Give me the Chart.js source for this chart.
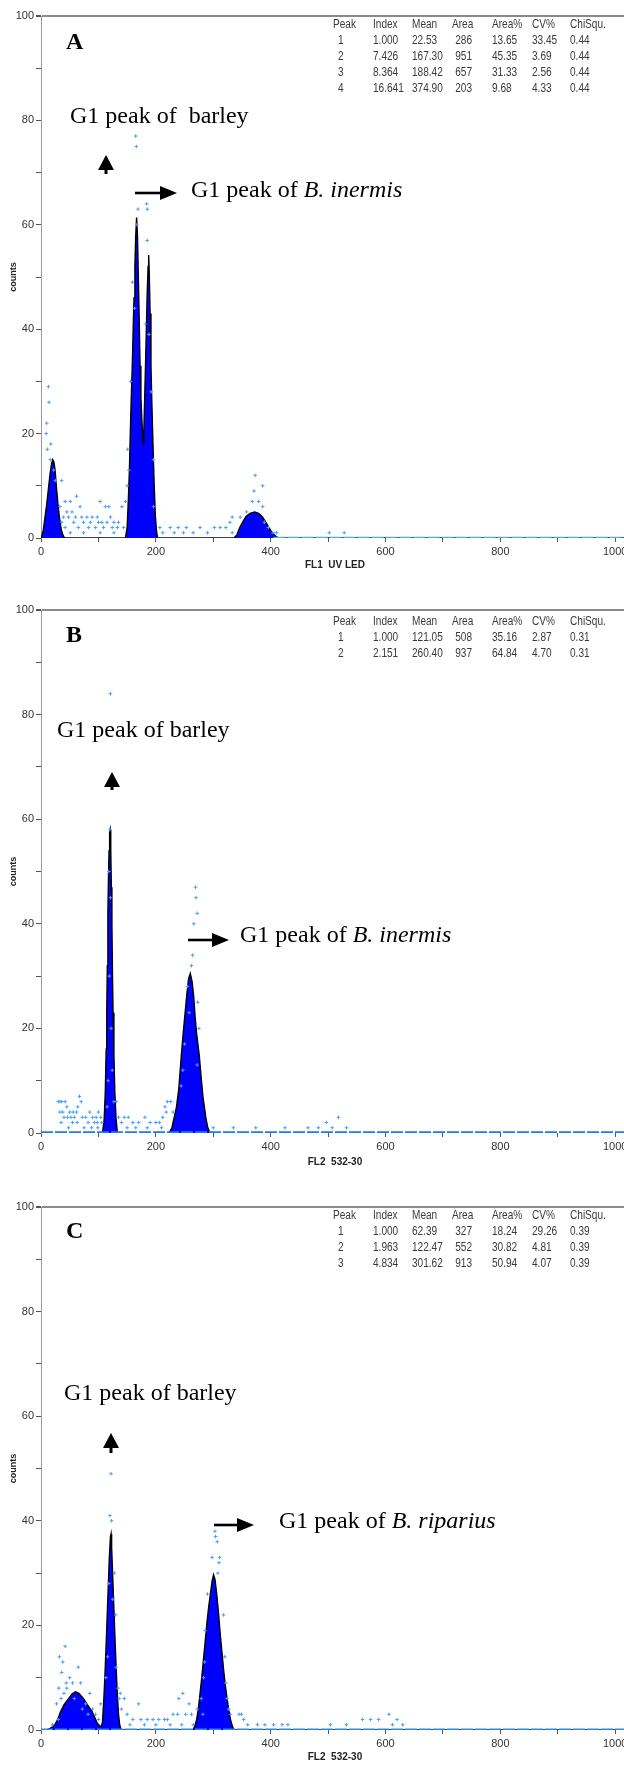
<!DOCTYPE html>
<html>
<head>
<meta charset="utf-8">
<script src="https://cdn.jsdelivr.net/npm/chart.js@4.4.1/dist/chart.umd.min.js"></script>
<style>
  html, body { margin: 0; padding: 0; background: #fff; }
  body { width: 624px; height: 1766px; position: relative; overflow: hidden; }
  .panel { position: absolute; left: 0; }
  .panel canvas { display: block; }
  .txt { position: absolute; white-space: pre; line-height: 1; }
  .serif { font-family: 'Liberation Serif', 'Times New Roman', serif; font-size: 24px; color: #000; }
  .tag { font-weight: bold; }
  .stat { font-family: 'Liberation Sans Narrow', 'Arial Narrow', 'Liberation Sans', sans-serif; font-size: 12px;
          color: #3a3a3a; transform: scaleX(0.84); transform-origin: left center; }
  .stat.r { transform-origin: right center; }
  #arrows { position: absolute; left: 0; top: 0; }
</style>
</head>
<body>

<div class="panel" style="top:0px"><canvas id="chartA" width="660" height="580"></canvas></div>
<div class="panel" style="top:594px"><canvas id="chartB" width="660" height="580"></canvas></div>
<div class="panel" style="top:1190px"><canvas id="chartC" width="660" height="576"></canvas></div>
<svg id="arrows" width="624" height="1766"></svg>

<script>
// ---- axis ticks ----
const xTickValues = [0, 100, 200, 300, 400, 500, 600, 700, 800, 900, 1000];
const xLabelStep = 200;
const yLabelStep = 20;

// ---- peak statistics tables ----
const statsHeader = ['Peak', 'Index', 'Mean', 'Area', 'Area%', 'CV%', 'ChiSqu.'];
const statsA = [
  ['1', '1.000', '22.53', '286', '13.65', '33.45', '0.44'],
  ['2', '7.426', '167.30', '951', '45.35', '3.69', '0.44'],
  ['3', '8.364', '188.42', '657', '31.33', '2.56', '0.44'],
  ['4', '16.641', '374.90', '203', '9.68', '4.33', '0.44']
];
const statsB = [
  ['1', '1.000', '121.05', '508', '35.16', '2.87', '0.31'],
  ['2', '2.151', '260.40', '937', '64.84', '4.70', '0.31']
];
const statsC = [
  ['1', '1.000', '62.39', '327', '18.24', '29.26', '0.39'],
  ['2', '1.963', '122.47', '552', '30.82', '4.81', '0.39'],
  ['3', '4.834', '301.62', '913', '50.94', '4.07', '0.39']
];

// ---- fitted histogram outlines [channel, counts] ----
const fitA = [
  [0,0],[1,0.2],[4,1.5],[7,4],[10,6.5],[13,9.5],[16,12.5],[18.5,14.3],[20.5,15],[22.5,14.5],[24.5,13],
  [27,9.5],[29.5,6.5],[32,4],[35,1.8],[38,0.6],[41,0],
  [147,0],[150,2],[152,7],[154,13],[155.5,20],[157,26],[159,33],[160.5,40],[162,46],[163.5,52],[165,58],
  [166.5,61.4],[168,58],[169.5,50],[171,42],[172.5,33],[174,27],[175.5,23],[177,19.5],[178,18],[179,20],
  [180.5,26.5],[182,33],[183.5,40],[185,47],[186.5,52],[187.5,54.2],[188.5,51],[190,43],[191.5,33],[193,26],
  [195,18],[197,10.5],[199,4.5],[201,1.5],[203,0],
  [336,0],[341,0.6],[347,2.2],[352,3.2],[357,4.1],[364,4.7],[372,5],[379,4.7],[386,4],[391,3.1],[396,2.2],
  [402,1.1],[409,0.3],[414,0],[1024,0]
];
const fitB = [
  [107,0],[110,2.5],[112,8],[113.5,16],[114.5,23],[115.5,32],[116.5,42],[117.5,49],[118.5,54],[119.5,57.5],
  [120.5,58],[121.5,54],[122.5,47],[123.5,40],[124.5,30],[125.5,23],[127,15],[128.5,8],[130.5,3],[133,0],
  [170,null],
  [223,0],[228,1],[232,3],[236,5],[240,8.5],[244.5,15],[248,19.5],[251,23],[254,26.5],[257,29.5],[260,30.5],
  [263,29],[266,26],[268.5,22],[271,19],[275.5,15],[279,10.5],[282,7],[284.5,5],[287,3],[290,1.2],[294,0]
];
const fitC = [
  [0,0],[10,0],[16,0.3],[20,0.6],[24,1],[29,2],[34,3.5],[40,4.8],[48,6],[54,6.9],[60,7.3],[66,7],[74,6],
  [81,4.8],[89,3.5],[94,2.3],[98,1.3],[102,0.8],[105,0.7],[107,1.5],[109,5],[111,9.5],[113,15],[115,21],
  [117,27],[119,33],[121,37],[122,37.5],[123,35],[125,29],[127,23],[129,17],[131,11.5],[133,6.5],[135,3],
  [137,1],[139.5,0],
  [265,0],[268,0.8],[271,2],[274,4],[277,7],[280,10],[283,13.5],[286,17],[289,20.5],[292,23.5],[295,26],
  [298,28.5],[300.5,29.7],[303,28.8],[306,26],[309,22.5],[312,18.5],[315,15],[318,11.5],[321,8.5],[324,6],
  [327,3.8],[330,2],[333,0.8],[336,0],[1024,0]
];

// ---- zero-count baseline (dashed) ----
const baseA = [[405,0],[1024,0]];
const baseB = [[0,0],[1024,0]];
const baseC = [[0,0],[1024,0]];

// ---- raw event dots [channel, counts] ----
const dotsA = [
  [10,22],[14,26],[13,29],[9,20],[11,17],[17,18],[16,15],[22,13],[25,11],[36,11],
  [165,77],[166,75],[169,63],[184,64],[185,63],[185,57],[167,60],[159,49],[163,44],[182,41],[188,39],
  [156,30],[192,28],[151,17],[153,13],[196,15],[196,6],
  [33,6],[42,7],[51,7],[62,8],[45,5],[54,5],[68,6],[39,4],[48,4],[60,4],[71,4],[80,4],[103,7],[89,4],
  [98,4],[112,6],[118,6],[121,4],[106,3],[36,3],[57,3],[74,3],[86,3],[100,3],[115,3],[127,3],[135,3],
  [141,6],[147,7],[150,10],[42,2],[65,2],[83,2],[95,2],[109,2],[124,2],[133,2],[144,2],[51,1],[74,1],
  [103,1],[127,1],
  [207,2],[212,1],[225,2],[232,1],[239,2],[248,1],[253,2],[265,1],[277,2],[290,1],[302,2],[312,2],
  [322,2],[329,3],[333,1],
  [373,12],[371,9],[386,10],[368,7],[379,7],[386,6],[347,4],[333,4],[358,5],[389,3],[396,2],[404,1],
  [410,1],[502,1],[528,1]
];
const dotsB = [
  [121,84],[120,58],[269,47],[270,45],[272,42],[266,40],[264,34],[262,32],[273,25],[275,20],[272,13],
  [258,23],[250,17],[247,12],[244,9],[255,28],[118,50],[121,45],[119,30],[122,20],[117,10],[124,12],
  [127,6],[115,5],
  [30,6],[33,6],[36,6],[42,6],[45,5],[33,4],[38,4],[50,4],[56,4],[62,4],[67,7],[70,6],[64,5],[40,3],
  [46,3],[52,3],[58,3],[72,3],[78,3],[85,4],[90,3],[96,3],[100,4],[104,3],[93,2],[35,2],[55,2],[63,2],
  [82,2],[98,2],[106,2],[48,1],[75,1],[88,1],[99,1],[131,6],[135,3],[140,2],[145,3],[152,3],[160,2],
  [170,2],[181,3],[190,2],[200,2],[206,2],[212,3],[216,5],[220,6],[226,6],[230,4],[218,4],[210,1],
  [150,1],[165,1],[185,1],[300,1],[335,1],[374,1],[425,1],[465,1],[483,1],[497,2],[507,1],[518,3],[532,1]
];
const dotsC = [
  [122,49],[120,41],[123,40],[128,30],[125,25],[118,28],[130,22],[116,14],[113,10],[131,12],[134,8],[136,6],
  [303,38],[304,37],[307,36],[298,33],[311,33],[310,32],[308,30],[286,19],[285,13],[283,10],[290,26],
  [318,22],[320,14],[322,9],[324,6],[327,4],[330,3],[279,6],[282,3],
  [42,16],[32,14],[38,13],[36,11],[50,10],[44,9],[65,12],[31,8],[35,6],[69,9],[85,7],[45,8],[27,5],
  [55,9],[40,7],[58,6],[72,4],[78,5],[82,3],[90,4],[95,3],[100,2],[104,5],[30,2],[20,1],
  [138,7],[145,6],[140,4],[150,3],[160,2],[170,5],[174,2],[185,2],[195,2],[205,2],[215,2],[220,2],
  [230,3],[238,3],[240,6],[247,7],[252,3],[258,5],[262,3],[272,4],[155,1],[180,1],[200,1],[225,1],
  [245,1],[265,1],
  [345,3],[349,3],[353,2],[360,1],[377,1],[390,1],[405,1],[420,1],[430,1],[504,1],[532,1],[560,2],
  [574,2],[588,2],[606,3],[612,1],[620,2],[630,1]
];

const NARROW = "'Liberation Sans Narrow', 'Arial Narrow', 'Liberation Sans', sans-serif";
const toXY = arr => arr.map(([x, y]) => ({ x: x, y: y }));

function buildChart(id, fit, base, dots, xTitle, dims) {
  const canvas = document.getElementById(id);
  return new Chart(canvas, {
    type: 'line',
    data: {
      datasets: [
        {
          type: 'scatter',
          data: toXY(dots),
          pointStyle: 'cross',
          pointRadius: 1.8,
          borderColor: '#4aa0f6',
          borderWidth: 1,
          showLine: false
        },
        {
          data: toXY(base),
          borderColor: dims.baseColor,
          borderWidth: dims.baseWidth,
          borderDash: [12, 2],
          pointRadius: 0,
          fill: false
        },
        {
          data: toXY(fit),
          borderColor: '#000',
          borderWidth: 1.4,
          backgroundColor: '#0000ff',
          fill: 'origin',
          pointRadius: 0,
          tension: 0,
          spanGaps: false
        }
      ]
    },
    options: {
      responsive: false,
      animation: false,
      devicePixelRatio: 1,
      layout: { padding: { top: dims.padTop, right: 31, bottom: dims.padBottom, left: 0 } },
      plugins: { legend: { display: false }, tooltip: { enabled: false } },
      scales: {
        x: {
          type: 'linear',
          min: 0,
          max: 1024,
          afterBuildTicks: s => { s.ticks = xTickValues.map(v => ({ value: v })); },
          afterFit: s => { s.height = dims.axisH; },
          grid: { drawOnChartArea: false, drawTicks: true, tickLength: 4, tickColor: '#555' },
          border: { display: false },
          ticks: {
            autoSkip: false,
            maxRotation: 0,
            padding: 3,
            color: '#333',
            font: { family: NARROW, size: 11 },
            callback: v => (v % xLabelStep === 0 ? String(v) : '')
          },
          title: {
            display: true,
            text: xTitle,
            color: '#222',
            font: { family: NARROW, size: 10, weight: 'bold' },
            padding: 0
          }
        },
        y: {
          min: 0,
          max: 100,
          afterFit: s => { s.width = 41; },
          ticks: {
            stepSize: 10,
            autoSkip: false,
            padding: 2,
            color: '#333',
            font: { family: NARROW, size: 11 },
            callback: v => (v % yLabelStep === 0 ? String(v) : '')
          },
          grid: {
            drawOnChartArea: true,
            color: c => (c.tick && c.tick.value === 100 ? '#8a8a8a' : 'rgba(0,0,0,0)'),
            lineWidth: c => (c.tick && c.tick.value === 100 ? 2 : 1),
            tickColor: '#555',
            tickLength: 5
          },
          border: { display: true, color: '#9a9a9a', width: 1 },
          title: {
            display: true,
            text: 'counts',
            color: '#222',
            font: { family: NARROW, size: 9, weight: 'bold' },
            padding: { top: 8 }
          }
        }
      }
    }
  });
}

buildChart('chartA', fitA, baseA, dotsA, 'FL1  UV LED',
  { padTop: 16, padBottom: 580 - 16 - 522 - 33, axisH: 33, baseColor: '#55a8ff', baseWidth: 2.5 });
buildChart('chartB', fitB, baseB, dotsB, 'FL2  532-30',
  { padTop: 16, padBottom: 580 - 16 - 523 - 35, axisH: 35, baseColor: '#1c7cf2', baseWidth: 3.5 });
buildChart('chartC', fitC, baseC, dotsC, 'FL2  532-30',
  { padTop: 17, padBottom: 576 - 17 - 523 - 33, axisH: 33, baseColor: '#2f86ee', baseWidth: 3 });

// ---- text overlays (positioned by baseline) ----
function placeText(html, x, baseline, cls, size, align) {
  const el = document.createElement('div');
  el.className = 'txt ' + cls + (align === 'right' ? ' r' : '');
  el.innerHTML = html;
  const ascentOffset = cls.indexOf('stat') >= 0 ? 0.8465 : 0.8375;
  el.style.top = (baseline - ascentOffset * size) + 'px';
  if (align === 'right') {
    el.style.right = (624 - x) + 'px';
  } else {
    el.style.left = x + 'px';
  }
  document.body.appendChild(el);
}

const statCols = [333, 373, 412, 472, 492, 532, 570];
function placeStats(rows, headerBaseline) {
  statsHeader.forEach((h, i) => {
    placeText(h, i === 3 ? 452 : statCols[i], headerBaseline, 'stat', 12);
  });
  rows.forEach((row, r) => {
    const b = headerBaseline + 16 * (r + 1);
    row.forEach((v, i) => {
      if (i === 0) placeText(v, 338, b, 'stat', 12);
      else if (i === 3) placeText(v, statCols[i], b, 'stat', 12, 'right');
      else placeText(v, statCols[i], b, 'stat', 12);
    });
  });
}
placeStats(statsA, 28);
placeStats(statsB, 625);
placeStats(statsC, 1219.5);

placeText('A', 66, 49, 'serif tag', 24);
placeText('B', 66, 642, 'serif tag', 24);
placeText('C', 66, 1238, 'serif tag', 24);

placeText('G1 peak of  barley', 70, 123, 'serif', 24);
placeText('G1 peak of <i>B. inermis</i>', 191, 197, 'serif', 24);
placeText('G1 peak of barley', 57, 737, 'serif', 24);
placeText('G1 peak of <i>B. inermis</i>', 240, 942, 'serif', 24);
placeText('G1 peak of barley', 64, 1400, 'serif', 24);
placeText('G1 peak of <i>B. riparius</i>', 279, 1528, 'serif', 24);

// ---- annotation arrows ----
const svg = document.getElementById('arrows');
const NS = 'http://www.w3.org/2000/svg';
function svgEl(tag, attrs) {
  const e = document.createElementNS(NS, tag);
  Object.keys(attrs).forEach(k => e.setAttribute(k, attrs[k]));
  svg.appendChild(e);
}
function arrowUp(x, top, bottom) {
  svgEl('line', { x1: x, y1: top + 12, x2: x, y2: bottom, stroke: '#000', 'stroke-width': 3 });
  svgEl('polygon', { points: `${x},${top} ${x - 8},${top + 15} ${x + 8},${top + 15}`, fill: '#000' });
}
function arrowRight(left, tip, y) {
  svgEl('line', { x1: left, y1: y, x2: tip - 12, y2: y, stroke: '#000', 'stroke-width': 2.6 });
  svgEl('polygon', { points: `${tip},${y} ${tip - 17},${y - 7} ${tip - 17},${y + 7}`, fill: '#000' });
}
arrowUp(106, 155, 174);
arrowRight(135, 177, 193);
arrowUp(112, 772, 790);
arrowRight(188, 229, 940);
arrowUp(111, 1433, 1453);
arrowRight(214, 254, 1525);
</script>
</body>
</html>
